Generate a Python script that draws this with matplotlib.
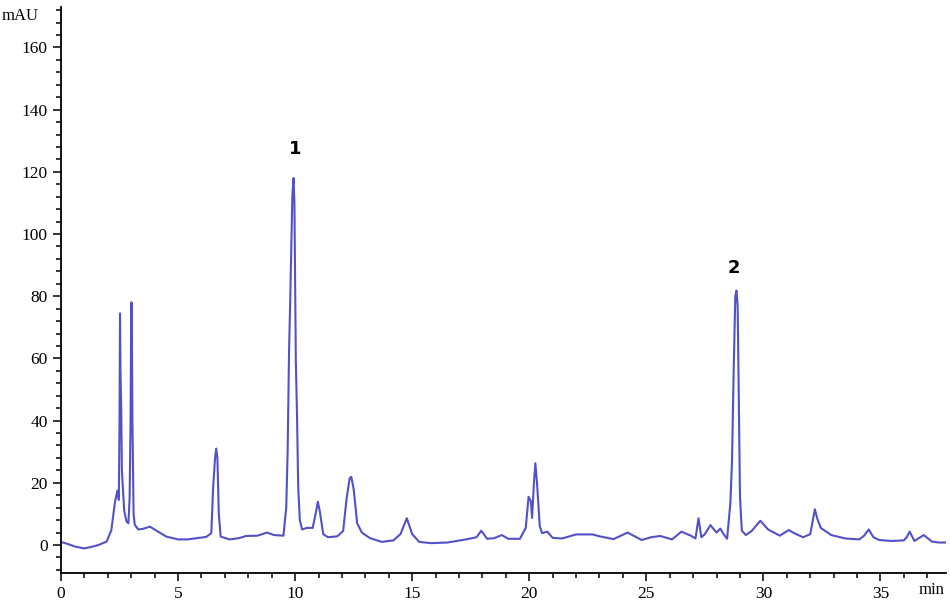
import matplotlib
matplotlib.use("Agg")
import matplotlib.pyplot as plt
from matplotlib.ticker import MultipleLocator

# retention time (min) and detector signal (mAU)
time_min = [
    0.0, 0.3, 0.6, 1.0, 1.3, 1.6, 1.95, 2.15, 2.3, 2.38,
    2.42, 2.47, 2.5, 2.52, 2.54, 2.57, 2.6, 2.7, 2.8, 2.88,
    2.93, 2.97, 3.0, 3.02, 3.05, 3.1, 3.15, 3.3, 3.5, 3.8,
    4.1, 4.5, 5.0, 5.4, 5.8, 6.2, 6.42, 6.5, 6.58, 6.63,
    6.68, 6.74, 6.82, 7.2, 7.6, 7.9, 8.4, 8.8, 9.1, 9.5,
    9.62, 9.68, 9.74, 9.8, 9.88, 9.93, 9.97, 10.03, 10.08, 10.13,
    10.2, 10.3, 10.5, 10.75, 10.9, 10.97, 11.05, 11.2, 11.4, 11.8,
    12.05, 12.2, 12.33, 12.4, 12.5, 12.65, 12.85, 13.2, 13.7, 14.2,
    14.5, 14.77, 15.0, 15.3, 15.8, 16.5, 17.3, 17.75, 17.95, 18.2,
    18.5, 18.83, 19.1, 19.6, 19.85, 19.97, 20.07, 20.12, 20.2, 20.26,
    20.33, 20.45, 20.55, 20.77, 21.0, 21.4, 22.0, 22.7, 23.0, 23.6,
    24.2, 24.8, 25.2, 25.6, 26.1, 26.5, 26.9, 27.1, 27.23, 27.35,
    27.5, 27.74, 28.0, 28.16, 28.3, 28.45, 28.59, 28.66, 28.73, 28.8,
    28.85, 28.9, 28.94, 29.0, 29.08, 29.25, 29.5, 29.87, 30.2, 30.7,
    31.08, 31.4, 31.7, 32.0, 32.1, 32.2, 32.3, 32.45, 32.9, 33.5,
    34.1, 34.3, 34.5, 34.7, 34.95, 35.5, 36.0, 36.12, 36.25, 36.45,
    36.85, 37.2, 37.5, 37.85,
]
signal_mau = [
    1.0, 0.3, -0.5, -1.1, -0.6, 0.0, 1.1, 4.8, 13.5, 16.5,
    17.5, 14.5, 40, 74.5, 56, 45, 24, 11, 7.5, 7.0,
    15, 39, 78, 78, 40, 10, 6.5, 5.0, 5.2, 5.9,
    4.5, 2.7, 1.8, 1.8, 2.2, 2.6, 3.8, 18.8, 28, 31,
    28, 10, 2.7, 1.8, 2.2, 2.9, 3.0, 4.0, 3.2, 3.0,
    12, 30, 62, 82, 112, 118, 110, 59, 42, 19,
    8, 5, 5.5, 5.5, 11, 13.9, 11, 3.5, 2.5, 2.8,
    4.5, 15, 21.5, 21.9, 18, 7, 4, 2.2, 1.0, 1.5,
    3.5, 8.6, 3.5, 1.0, 0.6, 0.8, 1.8, 2.5, 4.6, 2.0,
    2.2, 3.2, 2.0, 2.0, 5.5, 15.5, 14, 8.7, 20, 26.3,
    20, 6, 3.8, 4.3, 2.3, 2.1, 3.4, 3.4, 2.8, 1.9,
    4.0, 1.6, 2.5, 2.9, 1.8, 4.3, 3.0, 2.1, 8.6, 2.5,
    3.5, 6.4, 4.0, 5.3, 3.5, 2.0, 13.5, 27, 55.7, 80,
    81.8, 77, 53.6, 15.5, 4.6, 3.2, 4.5, 7.8, 5.0, 3.0,
    4.8, 3.5, 2.5, 3.5, 7.5, 11.5, 8.5, 5.5, 3.2, 2.1,
    1.8, 3.0, 5.0, 2.5, 1.6, 1.3, 1.5, 2.5, 4.3, 1.3,
    3.2, 1.1, 0.8, 0.8,
]

# numbered peaks: label, time, height of label
peak_labels = ['1', '2']
peak_times = [10.0, 28.76]
peak_label_y = [127.5, 89]

x_ticks = [0, 5, 10, 15, 20, 25, 30, 35]
y_ticks = [0, 20, 40, 60, 80, 100, 120, 140, 160]

plt.rcParams['font.family'] = ['Liberation Serif', 'DejaVu Serif']

fig = plt.figure(figsize=(9.5, 6.03), dpi=100)
ax = fig.add_axes([61 / 950, 1 - 573 / 603, 885 / 950, 566 / 603])

ax.plot(time_min, signal_mau, color='#5252c8', lw=1.5)

ax.set_xlim(0, 37.8)
ax.set_ylim(-9, 173)
ax.set_xticks(x_ticks)
ax.set_yticks(y_ticks)
ax.xaxis.set_minor_locator(MultipleLocator(1))
ax.yaxis.set_minor_locator(MultipleLocator(4))
ax.tick_params(which='major', direction='out', length=6, width=1.1, labelsize=12.5)
ax.tick_params(which='minor', direction='out', length=3.5, width=1.1)

for side in ['top', 'right']:
    ax.spines[side].set_visible(False)
for side in ['left', 'bottom']:
    ax.spines[side].set_linewidth(1.3)

for lab, t, y in zip(peak_labels, peak_times, peak_label_y):
    ax.text(t, y, lab, ha='center', va='center', fontsize=13,
            fontweight='bold', family='DejaVu Sans')

fig.text(2 / 950, 1 - 16 / 603, 'mAU', ha='left', va='center', fontsize=12)
fig.text(932 / 950, 1 - 590 / 603, 'min', ha='center', va='center', fontsize=12)

fig.savefig('out.png', dpi=100)
